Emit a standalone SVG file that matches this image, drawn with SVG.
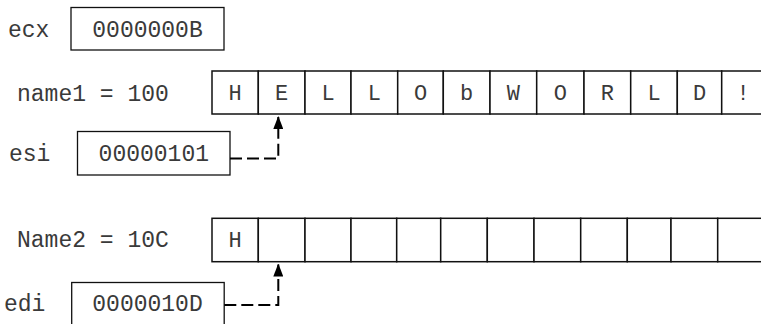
<svg xmlns="http://www.w3.org/2000/svg" width="761" height="324" viewBox="0 0 761 324">
  <style>
    text { font-family: "Liberation Mono", "Courier New", monospace; fill: #3a3a3a; }
    .lbl { font-size: 23px; }
    .val { font-size: 23px; text-anchor: middle; }
    .ch { font-size: 22px; text-anchor: middle; }
    .box { fill: #fff; stroke: #111; stroke-width: 1.3; }
    .cell { fill: #fff; stroke: #111; stroke-width: 1.5; }
    .link { fill: none; stroke: #000; stroke-width: 2; stroke-dasharray: 12 5; }
  </style>
  <defs>
    <!-- filled triangular head, tip at the end of the path -->
    <marker id="arrow" viewBox="0 0 13 10" refX="12" refY="5" markerWidth="13" markerHeight="10" markerUnits="userSpaceOnUse" orient="auto">
      <path d="M0,0 L13,5 L0,10 Z" fill="#000"/>
    </marker>
  </defs>

  <!-- register ecx -->
  <g id="ecx">
    <text class="lbl" x="8" y="37">ecx</text>
    <rect class="box" x="71" y="7.5" width="153" height="42.5"/>
    <text class="val" x="147.5" y="37">0000000B</text>
  </g>

  <!-- string buffer at 100 -->
  <g id="name1">
    <text class="lbl" x="17" y="101">name1 = 100</text>
    <rect class="cell" x="212" y="71" width="46.3" height="43"/>
    <rect class="cell" x="258.3" y="71" width="46.7" height="43"/>
    <rect class="cell" x="305" y="71" width="46" height="43"/>
    <rect class="cell" x="351" y="71" width="46.7" height="43"/>
    <rect class="cell" x="397.7" y="71" width="45.6" height="43"/>
    <rect class="cell" x="443.3" y="71" width="46.7" height="43"/>
    <rect class="cell" x="490" y="71" width="46.7" height="43"/>
    <rect class="cell" x="536.7" y="71" width="47.3" height="43"/>
    <rect class="cell" x="584" y="71" width="46.7" height="43"/>
    <rect class="cell" x="630.7" y="71" width="46.6" height="43"/>
    <rect class="cell" x="677.3" y="71" width="44.4" height="43"/>
    <rect class="cell" x="721.7" y="71" width="46" height="43"/>
    <text class="ch" x="235.2" y="100">H</text>
    <text class="ch" x="281.7" y="100">E</text>
    <text class="ch" x="328" y="100">L</text>
    <text class="ch" x="374.4" y="100">L</text>
    <text class="ch" x="420.5" y="100">O</text>
    <text class="ch" x="466.7" y="100">b</text>
    <text class="ch" x="513.4" y="100">W</text>
    <text class="ch" x="560.4" y="100">O</text>
    <text class="ch" x="607.4" y="100">R</text>
    <text class="ch" x="654" y="100">L</text>
    <text class="ch" x="699.5" y="100">D</text>
    <text class="ch" x="743" y="100">!</text>
  </g>

  <!-- register esi -->
  <g id="esi">
    <text class="lbl" x="9" y="161">esi</text>
    <rect class="box" x="77.5" y="131.5" width="152.5" height="43.5"/>
    <text class="val" x="153.8" y="161">00000101</text>
  </g>

  <!-- string buffer at 10C -->
  <g id="name2">
    <text class="lbl" x="17" y="247">Name2 = 10C</text>
    <rect class="cell" x="212" y="218.3" width="46.3" height="43.4"/>
    <rect class="cell" x="258.3" y="218.3" width="46.7" height="43.4"/>
    <rect class="cell" x="305" y="218.3" width="46" height="43.4"/>
    <rect class="cell" x="351" y="218.3" width="45.7" height="43.4"/>
    <rect class="cell" x="396.7" y="218.3" width="44" height="43.4"/>
    <rect class="cell" x="440.7" y="218.3" width="46.6" height="43.4"/>
    <rect class="cell" x="487.3" y="218.3" width="46.7" height="43.4"/>
    <rect class="cell" x="534" y="218.3" width="46.7" height="43.4"/>
    <rect class="cell" x="580.7" y="218.3" width="46.6" height="43.4"/>
    <rect class="cell" x="627.3" y="218.3" width="43.7" height="43.4"/>
    <rect class="cell" x="671" y="218.3" width="46.7" height="43.4"/>
    <rect class="cell" x="717.7" y="218.3" width="46" height="43.4"/>
    <text class="ch" x="235.2" y="247">H</text>
  </g>

  <!-- register edi -->
  <g id="edi">
    <text class="lbl" x="4" y="311">edi</text>
    <rect class="box" x="71.7" y="282.5" width="152.5" height="50"/>
    <text class="val" x="147.5" y="311">0000010D</text>
  </g>

  <!-- pointer connectors -->
  <g id="connectors">
    <path class="link" d="M230,158.5 H278.3 V117" marker-end="url(#arrow)"/>
    <path class="link" d="M224.3,305 H278.3 V264.5" marker-end="url(#arrow)"/>
  </g>
</svg>
